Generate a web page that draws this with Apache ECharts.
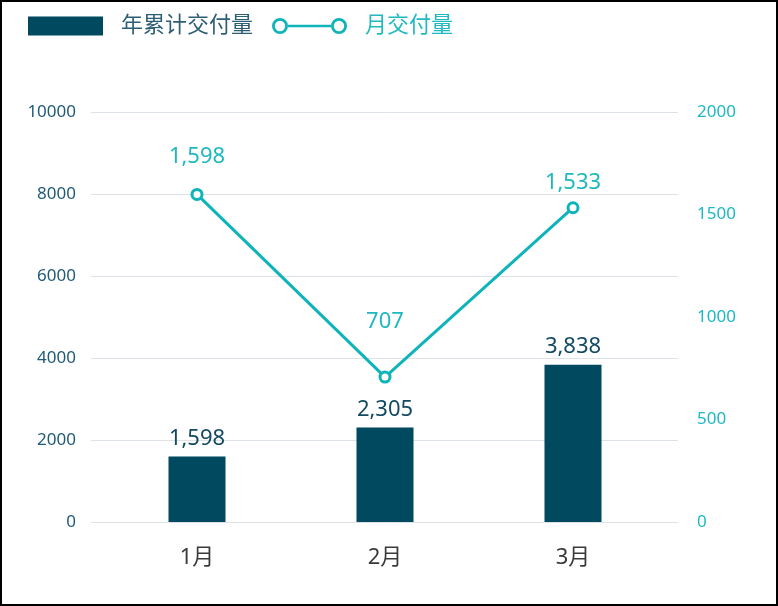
<!DOCTYPE html>
<html lang="zh">
<head>
    <meta charset="UTF-8">
    <title>交付量</title>
    <script src="https://cdn.jsdelivr.net/npm/echarts@6/dist/echarts.min.js"></script>
    <style>
        body { margin: 0; }
        #main { width: 778px; height: 606px; position: relative; }
        #frame { position: absolute; left: 0; top: 0; width: 778px; height: 606px; box-sizing: border-box; border: 2px solid #000; pointer-events: none; }
    </style>
</head>
<body>
<div id="main"></div>
<div id="frame"></div>
<script>
    // 数据
    var months = ['1月', '2月', '3月'];
    var yearTotal = [1598, 2305, 3838];   // 年累计交付量
    var monthly = [1598, 707, 1533];      // 月交付量

    var FONT = "'Noto Sans', 'Noto Sans CJK SC', sans-serif";
    var BAR_COLOR = '#01495f';
    var LINE_COLOR = '#0fb4ba';

    // 折线标签离点的距离
    var lineLabelGap = [20, 38, 8];

    // 图例里折线的图标：两端空心圆 + 中间线
    var lineIcon = 'path://M0,8A8,8 0 1,1 16,8A8,8 0 1,1 0,8Z' +
        'M2.8,8A5.2,5.2 0 1,0 13.2,8A5.2,5.2 0 1,0 2.8,8Z' +
        'M59,8A8,8 0 1,1 75,8A8,8 0 1,1 59,8Z' +
        'M61.8,8A5.2,5.2 0 1,0 72.2,8A5.2,5.2 0 1,0 61.8,8Z' +
        'M16,6.8L59,6.8L59,9.2L16,9.2Z';

    var lineData = [];
    for (var i = 0; i < monthly.length; i++) {
        lineData.push({ value: monthly[i], label: { distance: lineLabelGap[i] } });
    }

    function withComma(p) {
        return p.value.toLocaleString('en-US');
    }
    function plain(v) {
        return String(v);
    }

    var myChart = echarts.init(document.getElementById('main'));
    myChart.setOption({
        animation: false,
        textStyle: { fontFamily: FONT },
        legend: {
            left: 28,
            top: 15,
            padding: 0,
            itemWidth: 75,
            itemHeight: 19,
            itemGap: 19,
            textStyle: { fontSize: 22, fontFamily: FONT, padding: [0, 0, 0, 13] },
            data: [
                { name: '年累计交付量', icon: 'rect', textStyle: { color: '#2f5f75' } },
                { name: '月交付量', icon: lineIcon, itemStyle: { borderWidth: 0, color: LINE_COLOR }, textStyle: { color: '#22b9c1' } }
            ]
        },
        // grid 0 画网格线和刻度，grid 1 放数据
        grid: [
            { left: 91, right: 100, top: 112, bottom: 84 },
            { left: 103, right: 111, top: 112, bottom: 84 }
        ],
        xAxis: [
            { type: 'category', gridIndex: 0, data: months, show: false },
            {
                type: 'category', gridIndex: 1, data: months,
                axisLine: { show: false }, axisTick: { show: false },
                axisLabel: { fontSize: 22, color: '#3a3a3a', margin: 25, fontFamily: FONT }
            }
        ],
        yAxis: [
            {
                type: 'value', gridIndex: 0, min: 0, max: 10000, interval: 2000,
                axisLine: { show: false }, axisTick: { show: false },
                axisLabel: { fontSize: 17, color: '#1f5a77', margin: 15, fontFamily: FONT, formatter: plain },
                splitLine: { lineStyle: { color: '#dce2e7', width: 1 } }
            },
            {
                type: 'value', gridIndex: 0, position: 'right', min: 0, max: 2000, interval: 500,
                axisLine: { show: false }, axisTick: { show: false },
                axisLabel: { fontSize: 17, color: '#1cb9c2', margin: 19, fontFamily: FONT, formatter: plain },
                splitLine: { show: false }
            },
            { type: 'value', gridIndex: 1, min: 0, max: 10000, show: false, splitLine: { show: false } },
            { type: 'value', gridIndex: 1, min: 0, max: 2000, show: false, splitLine: { show: false } }
        ],
        series: [
            {
                name: '年累计交付量',
                type: 'bar',
                xAxisIndex: 1,
                yAxisIndex: 2,
                barWidth: 57,
                itemStyle: { color: BAR_COLOR },
                label: {
                    show: true, position: 'top', distance: 7,
                    fontSize: 22, color: '#134a62', fontFamily: FONT,
                    formatter: withComma
                },
                data: yearTotal
            },
            {
                name: '月交付量',
                type: 'line',
                xAxisIndex: 1,
                yAxisIndex: 3,
                symbol: 'circle',
                symbolSize: 10,
                itemStyle: { color: '#ffffff', borderColor: LINE_COLOR, borderWidth: 3 },
                lineStyle: { color: LINE_COLOR, width: 3 },
                label: {
                    show: true, position: 'top',
                    fontSize: 22, color: '#1fb8c0', fontFamily: FONT,
                    formatter: withComma
                },
                data: lineData
            }
        ]
    });
</script>
</body>
</html>
